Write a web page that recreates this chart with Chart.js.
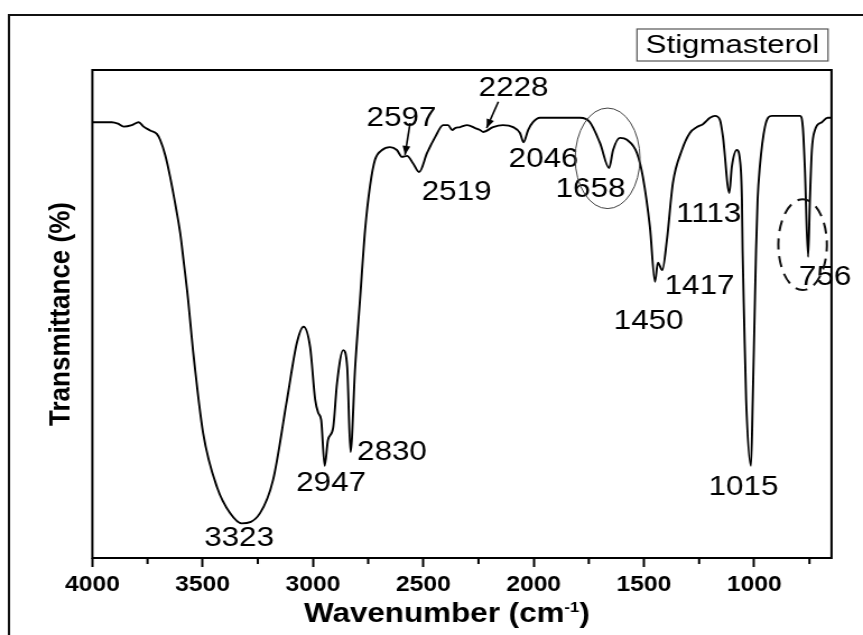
<!DOCTYPE html>
<html>
<head>
<meta charset="utf-8">
<title>Stigmasterol FTIR</title>
<script src="https://cdn.jsdelivr.net/npm/chart.js@4.4.1/dist/chart.umd.min.js"></script>
<style>
  html, body { margin: 0; padding: 0; background: #fff; overflow: hidden; }
  /* the figure is laid out on a 770px-wide canvas and widened to the 863px page */
  #wrap { position: absolute; left: 0; top: 0; width: 770px; height: 635px;
          transform: scaleX(1.12078); transform-origin: 0 0; }
</style>
</head>
<body>
<div id="wrap"><canvas id="ftir"></canvas></div>
<script>
// FTIR spectrum of stigmasterol: wavenumber (cm-1) and transmittance (%)
const wavenumbers = [
  4000, 3912, 3884, 3858, 3821, 3790, 3768, 3738, 3708, 3693,
  3670, 3648, 3625, 3602, 3587, 3566, 3544, 3498, 3435, 3376,
  3323, 3240, 3181, 3118, 3073, 3043, 3013, 2990, 2976, 2963,
  2947, 2932, 2909, 2891, 2863, 2845, 2830, 2809, 2787, 2764,
  2741, 2719, 2687, 2651, 2620, 2597, 2574, 2547, 2519, 2483,
  2446, 2410, 2388, 2369, 2356, 2333, 2301, 2265, 2243, 2228,
  2184, 2139, 2093, 2062, 2046, 2025, 2003, 1971, 1790, 1745,
  1699, 1658, 1640, 1609, 1577, 1532, 1505, 1473, 1450, 1437,
  1417, 1396, 1369, 1328, 1292, 1260, 1233, 1201, 1178, 1156,
  1142, 1113, 1102, 1079, 1065, 1056, 1053, 1046, 1037, 1015,
  1007, 999, 992, 985, 975, 952, 920, 793, 780, 771,
  756, 748, 739, 725, 694, 667, 650
];
const transmittance = [
  89.3, 89.3, 89.0, 88.4, 88.7, 89.3, 88.4, 87.6, 86.9, 85.7,
  82.6, 78.2, 72.7, 66.6, 61.1, 52.9, 42.6, 25.6, 14.5, 9.2,
  7.1, 9.2, 16.0, 32.4, 44.1, 47.4, 43.2, 32.4, 29.7, 28.3,
  18.9, 24.2, 26.6, 35.9, 42.6, 39.1, 21.7, 39.1, 52.9, 67.2,
  76.4, 81.6, 83.6, 84.2, 83.6, 82.2, 82.4, 80.9, 79.1, 83.0,
  86.3, 88.7, 88.7, 87.7, 88.1, 88.3, 88.7, 88.1, 87.7, 87.3,
  88.3, 88.7, 88.3, 87.1, 85.2, 87.7, 89.3, 90.2, 90.2, 89.3,
  85.0, 79.9, 83.6, 86.1, 85.7, 83.0, 78.1, 67.8, 56.6, 60.5,
  59.0, 65.2, 76.8, 83.6, 87.1, 88.3, 88.9, 90.2, 90.6, 89.8,
  86.3, 74.8, 80.1, 83.6, 81.6, 73.4, 63.1, 48.8, 32.4, 18.9,
  32.4, 48.8, 63.1, 73.4, 80.1, 88.3, 90.6, 90.6, 88.3, 80.1,
  61.7, 73.4, 83.6, 87.7, 89.3, 90.2, 90.2
];
// assigned absorption bands (cm-1)
const peakWavenumbers = [3323, 2947, 2830, 2597, 2519, 2228, 2046, 1658, 1450, 1417, 1113, 1015, 756];
const majorTicks = [4000, 3500, 3000, 2500, 2000, 1500, 1000];
const minorTicks = [3750, 3250, 2750, 2250, 1750, 1250, 750];
const sampleName = 'Stigmasterol';

const FONT = "'Liberation Sans', Arial, Helvetica, sans-serif";

// where each band label sits, in axis units (wavenumber, transmittance)
const labelSpots = {
  3323: [3335, 4.1], 2947: [2918, 15.4], 2830: [2642, 21.7], 2597: [2599, 90.2],
  2519: [2349, 74.9], 2228: [2091, 96.2], 2046: [1955, 81.8], 1658: [1742, 75.6],
  1450: [1479, 48.6], 1417: [1248, 55.7], 1113: [1207, 70.5], 1015: [1049, 14.4],
  756: [679, 57.5]
};

const annotate = {
  id: 'annotate',
  beforeDraw(chart) {
    const { ctx, width, height } = chart;
    ctx.save();
    ctx.fillStyle = '#fff';
    ctx.fillRect(0, 0, width, height);
    // outer figure frame
    ctx.strokeStyle = '#111';
    ctx.lineWidth = 2;
    ctx.beginPath();
    ctx.moveTo(8, height + 5);
    ctx.lineTo(8, 15);
    ctx.lineTo(width + 5, 15);
    ctx.stroke();
    ctx.restore();
  },
  afterDraw(chart) {
    const { ctx, chartArea: a, scales: { x, y } } = chart;
    const px = v => x.getPixelForValue(v);
    const py = v => y.getPixelForValue(v);
    ctx.save();

    // plot box
    ctx.strokeStyle = '#000';
    ctx.lineWidth = 2;
    ctx.strokeRect(a.left, a.top, a.right - a.left, a.bottom - a.top);

    // minor ticks
    ctx.beginPath();
    minorTicks.forEach(v => { ctx.moveTo(px(v), a.bottom); ctx.lineTo(px(v), a.bottom + 6); });
    ctx.stroke();

    // band labels
    ctx.fillStyle = '#000';
    ctx.font = `28px ${FONT}`;
    ctx.textAlign = 'center';
    ctx.textBaseline = 'middle';
    peakWavenumbers.forEach(w => {
      const [lx, ly] = labelSpots[w];
      ctx.fillText(String(w), px(lx), py(ly));
    });

    // arrows to the weak bands
    const arrow = (x1, y1, x2, y2) => {
      ctx.lineWidth = 1.6;
      ctx.beginPath(); ctx.moveTo(x1, y1); ctx.lineTo(x2, y2); ctx.stroke();
      const ang = Math.atan2(y2 - y1, x2 - x1), L = 9, W = 3.5;
      ctx.beginPath();
      ctx.moveTo(x2, y2);
      ctx.lineTo(x2 - L * Math.cos(ang) + W * Math.sin(ang), y2 - L * Math.sin(ang) - W * Math.cos(ang));
      ctx.lineTo(x2 - L * Math.cos(ang) - W * Math.sin(ang), y2 - L * Math.sin(ang) + W * Math.cos(ang));
      ctx.closePath(); ctx.fill();
    };
    arrow(px(2560), py(89.1), px(2583), py(82.6));
    arrow(px(2160), py(93.5), px(2213), py(88.1));

    // ellipse round the C=C band
    ctx.strokeStyle = '#444';
    ctx.lineWidth = 1;
    ctx.beginPath();
    ctx.ellipse(px(1665), py(81.9), Math.abs(px(1665 - 147) - px(1665)), Math.abs(py(81.9 + 10.3) - py(81.9)), 0, 0, Math.PI * 2);
    ctx.stroke();

    // dashed ellipse round the 756 band
    ctx.strokeStyle = '#111';
    ctx.lineWidth = 2;
    ctx.setLineDash([11, 7]);
    ctx.beginPath();
    ctx.ellipse(px(781), py(64.2), Math.abs(px(781 - 110) - px(781)), Math.abs(py(64.2 + 9.3) - py(64.2)), 0, -Math.PI / 2 - 0.18, Math.PI * 1.5 - 0.18);
    ctx.stroke();
    ctx.setLineDash([]);

    // sample name box
    const bx = a.right - 173.6, by = a.top - 41, bw = 170.5, bh = 32;
    ctx.strokeStyle = '#555';
    ctx.lineWidth = 1.2;
    ctx.strokeRect(bx, by, bw, bh);
    ctx.font = `25px ${FONT}`;
    ctx.fillStyle = '#000';
    const tw = ctx.measureText(sampleName).width;
    ctx.save();
    ctx.translate(bx + bw / 2, by + bh / 2 + 1);
    ctx.scale(155 / tw, 1);
    ctx.textAlign = 'center';
    ctx.textBaseline = 'middle';
    ctx.fillText(sampleName, 0, 0);
    ctx.restore();

    // x-axis title with superscript
    const main = 'Wavenumber (cm', sup = '-1', close = ')';
    ctx.textBaseline = 'alphabetic';
    ctx.textAlign = 'left';
    ctx.font = `bold 28px ${FONT}`;
    const w1 = ctx.measureText(main).width, w3 = ctx.measureText(close).width;
    ctx.font = `bold 15px ${FONT}`;
    const w2 = ctx.measureText(sup).width;
    const cx = (a.left + a.right) / 2 - 13.4;
    let sx = cx - (w1 + w2 + w3) / 2;
    const base = a.bottom + 64;
    ctx.font = `bold 28px ${FONT}`;
    ctx.fillText(main, sx, base);
    sx += w1;
    ctx.font = `bold 15px ${FONT}`;
    ctx.fillText(sup, sx, base - 10);
    sx += w2;
    ctx.font = `bold 28px ${FONT}`;
    ctx.fillText(close, sx, base);

    ctx.restore();
  }
};

new Chart(document.getElementById('ftir'), {
  type: 'line',
  data: {
    datasets: [{
      label: sampleName,
      data: wavenumbers.map((w, i) => ({ x: w, y: transmittance[i] })),
      borderColor: '#000',
      borderWidth: 1.9,
      pointRadius: 0,
      fill: false,
      cubicInterpolationMode: 'monotone'
    }]
  },
  options: {
    responsive: true,
    maintainAspectRatio: false,
    animation: false,
    events: [],
    layout: { padding: { left: 0, right: 28.1, top: 70, bottom: 0 } },
    plugins: { legend: { display: false }, tooltip: { enabled: false } },
    scales: {
      x: {
        type: 'linear',
        reverse: true,
        min: 650,
        max: 4000,
        afterBuildTicks: s => { s.ticks = majorTicks.map(v => ({ value: v })); },
        afterFit: s => { s.height = 77; },
        border: { display: false },
        grid: { display: true, drawOnChartArea: false, drawTicks: true, tickLength: 9, tickWidth: 2, tickColor: '#000' },
        ticks: {
          color: '#000', padding: 5, maxRotation: 0, autoSkip: false,
          font: { family: FONT, size: 22, weight: 'bold' },
          callback: v => String(v)
        },
        title: { display: false }
      },
      y: {
        min: 0,
        max: 100,
        afterFit: s => { s.width = 82.4; },
        border: { display: false },
        grid: { display: false },
        ticks: { display: false },
        title: {
          display: true,
          text: 'Transmittance (%)',
          color: '#000',
          font: { family: FONT, size: 26, weight: 'bold' },
          padding: { top: 38.8, bottom: 0 }
        }
      }
    }
  },
  plugins: [annotate]
});
</script>
</body>
</html>
